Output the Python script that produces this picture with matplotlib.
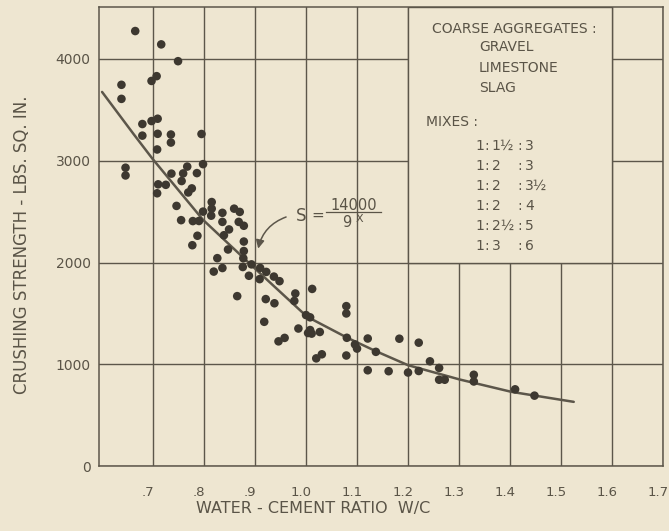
import matplotlib
matplotlib.use("Agg")
import matplotlib.pyplot as plt
from matplotlib.patches import Rectangle, FancyArrowPatch
from matplotlib.transforms import ScaledTranslation

# ---------------- data ----------------
wc_ratio = [0.665, 0.716, 0.749, 0.707, 0.697, 0.638, 0.638, 0.679, 0.697, 0.709,
            0.679, 0.709, 0.735, 0.735, 0.795, 0.708, 0.646, 0.646, 0.798, 0.767,
            0.759, 0.756, 0.736, 0.786, 0.710, 0.725, 0.708, 0.776, 0.769, 0.746,
            0.815, 0.815, 0.814, 0.798, 0.755, 0.778, 0.790, 0.787, 0.777, 0.836,
            0.836, 0.859, 0.870, 0.868, 0.878, 0.849, 0.839, 0.878, 0.847, 0.878,
            0.826, 0.877, 0.819, 0.836, 0.876, 0.893, 0.888, 0.910, 0.922, 0.909,
            0.937, 0.948, 0.865, 0.921, 0.938, 0.979, 0.977, 1.012, 1.000, 1.008,
            0.918, 0.985, 1.008, 1.011, 1.027, 1.004, 0.958, 0.946, 1.079, 1.079,
            1.080, 1.096, 1.100, 1.031, 1.020, 1.079, 1.121, 1.137, 1.183, 1.221,
            1.121, 1.162, 1.200, 1.221, 1.243, 1.261, 1.261, 1.272, 1.329, 1.329,
            1.410, 1.448]
strength = [4273, 4142, 3977, 3830, 3783, 3745, 3607, 3360, 3389, 3412,
            3246, 3264, 3257, 3178, 3262, 3110, 2931, 2855, 2966, 2942,
            2875, 2800, 2873, 2878, 2768, 2763, 2680, 2728, 2688, 2556,
            2594, 2529, 2460, 2500, 2416, 2407, 2408, 2263, 2170, 2488,
            2399, 2529, 2497, 2399, 2361, 2325, 2268, 2206, 2128, 2113,
            2043, 2042, 1911, 1946, 1956, 1982, 1870, 1947, 1908, 1837,
            1862, 1817, 1670, 1641, 1600, 1696, 1623, 1741, 1484, 1462,
            1418, 1352, 1337, 1302, 1318, 1308, 1260, 1226, 1572, 1500,
            1261, 1196, 1155, 1099, 1059, 1087, 1254, 1123, 1252, 1213,
            942, 933, 920, 935, 1030, 965, 849, 849, 898, 832,
            755, 693]

# hand-drawn curve S = 14000 / 9^x
curve_x = [0.600, 0.662, 0.699, 0.798, 0.894, 0.936, 1.002, 1.081, 1.135, 1.200,
           1.301, 1.403, 1.525]
curve_y = [3675, 3260, 3018, 2419, 1968, 1773, 1468, 1261, 1134, 992,
           852, 730, 632]

x_ticks = [0.7, 0.8, 0.9, 1.0, 1.1, 1.2, 1.3, 1.4, 1.5, 1.6, 1.7]
x_tick_labels = [".7", ".8", ".9", "1.0", "1.1", "1.2", "1.3", "1.4", "1.5", "1.6", "1.7"]
y_ticks = [0, 1000, 2000, 3000, 4000]
y_tick_labels = ["0", "1000", "2000", "3000", "4000"]

aggregates = ["GRAVEL", "LIMESTONE", "SLAG"]
mixes = [("1", "1½", "3"), ("1", "2", "3"), ("1", "2", "3½"),
         ("1", "2", "4"), ("1", "2½", "5"), ("1", "3", "6")]

# ---------------- style ----------------
BG = "#eee6d1"
LINE = "#5c564a"
DOT = "#3d3830"
TXT = "#5a5447"
FONT = ["Liberation Sans Narrow", "DejaVu Sans"]

plt.rcParams["font.family"] = FONT

fig = plt.figure(figsize=(6.69, 5.31), dpi=100, facecolor=BG)
ax = fig.add_axes([0.148, 0.122, 0.843, 0.865])
ax.set_facecolor(BG)

ax.set_xlim(0.594, 1.7)
ax.set_ylim(0, 4510)

ax.set_xticks(x_ticks)
ax.set_xticklabels(x_tick_labels, fontsize=9.5, color=TXT)
ax.set_yticks(y_ticks)
ax.set_yticklabels(y_tick_labels, fontsize=10, color=TXT, family=["DejaVu Sans"])
ax.tick_params(axis="both", length=0)
ax.tick_params(axis="x", pad=14)
ax.tick_params(axis="y", pad=6)
shift = ScaledTranslation(-5 / 100, 0, fig.dpi_scale_trans)
for lab in ax.get_xticklabels():
    lab.set_transform(lab.get_transform() + shift)

ax.grid(True, color=LINE, linewidth=1.0, zorder=1)
for s in ax.spines.values():
    s.set_color(LINE)
    s.set_linewidth(1.1)

# legend box (covers grid)
ax.add_patch(Rectangle((1.2, 2000), 0.4, 2510, facecolor=BG, edgecolor=LINE,
                       linewidth=1.0, zorder=2))

ax.plot(curve_x, curve_y, color=LINE, linewidth=1.8, zorder=3,
        solid_capstyle="round", solid_joinstyle="round")
ax.scatter(wc_ratio, strength, s=38, color=DOT, edgecolors="none", zorder=4)

# formula annotation
ax.text(0.991, 2459, "S", fontsize=12, color=TXT, ha="center", va="center")
ax.text(1.023, 2459, "=", fontsize=11, color=TXT, ha="center", va="center")
ax.plot([1.040, 1.147], [2492, 2492], color=TXT, linewidth=0.9, zorder=3)
ax.text(1.093, 2560, "14000", fontsize=10.5, color=TXT, ha="center", va="center")
ax.text(1.079, 2393, "9", fontsize=10.5, color=TXT, ha="center", va="center")
ax.text(1.104, 2425, "X", fontsize=8, color=TXT, ha="center", va="center")
arrow = FancyArrowPatch((0.966, 2456), (0.905, 2110),
                        connectionstyle="arc3,rad=0.3",
                        arrowstyle="-|>,head_length=5,head_width=2.5",
                        color=LINE, linewidth=1.1, zorder=5)
ax.add_patch(arrow)

# legend text
FS = 10
ax.text(1.247, 4296, "COARSE AGGREGATES :", fontsize=FS, color=TXT,
        ha="left", va="center")
for i, name in enumerate(aggregates):
    ax.text(1.339, 4113 - i * 200, name, fontsize=FS, color=TXT,
            ha="left", va="center")
ax.text(1.235, 3384, "MIXES :", fontsize=FS, color=TXT, ha="left", va="center")
for i, (a, b, c) in enumerate(mixes):
    yy = 3148 - i * 197
    ax.text(1.333, yy, a, fontsize=FS, color=TXT, ha="left", va="center")
    ax.text(1.350, yy, ":", fontsize=FS, color=TXT, ha="left", va="center")
    ax.text(1.364, yy, b, fontsize=FS, color=TXT, ha="left", va="center")
    ax.text(1.414, yy, ":", fontsize=FS, color=TXT, ha="left", va="center")
    ax.text(1.430, yy, c, fontsize=FS, color=TXT, ha="left", va="center")

# axis titles
fig.text(313 / 669, 1 - 508 / 531, "WATER - CEMENT RATIO  W/C", fontsize=11.5,
         color=TXT, ha="center", va="center")
fig.text(22 / 669, 1 - 245 / 531, "CRUSHING STRENGTH - LBS. SQ. IN.", fontsize=12,
         color=TXT, ha="center", va="center", rotation=90)

fig.savefig("out.png", dpi=100, facecolor=BG)
